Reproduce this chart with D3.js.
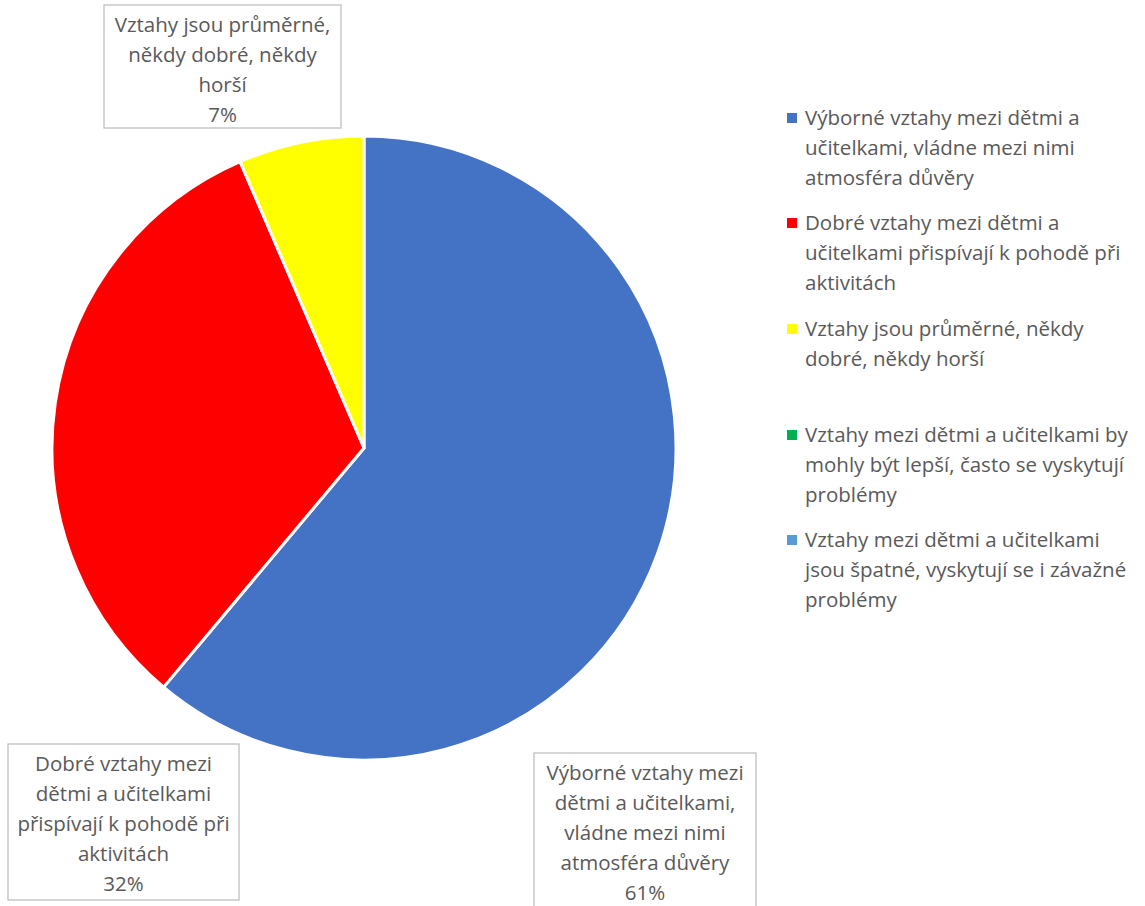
<!DOCTYPE html>
<html><head><meta charset="utf-8">
<script src="https://cdn.jsdelivr.net/npm/d3@7"></script>
<style>body{margin:0;background:#fff}svg{display:block}</style>
</head><body>
<svg id="c" width="1145" height="906"></svg>
<script>
const categories = [
  "Výborné vztahy mezi dětmi a učitelkami, vládne mezi nimi atmosféra důvěry",
  "Dobré vztahy mezi dětmi a učitelkami přispívají k pohodě při aktivitách",
  "Vztahy jsou průměrné, někdy dobré, někdy horší",
  "Vztahy mezi dětmi a učitelkami by mohly být lepší, často se vyskytují problémy",
  "Vztahy mezi dětmi a učitelkami jsou špatné, vyskytují se i závažné problémy"
];
const values = [61.1, 32.4, 6.5, 0, 0];
const colors = ["#4472C4", "#FF0000", "#FFFF00", "#00B050", "#5B9BD5"];
const legendLines = [
  ["Výborné vztahy mezi dětmi a", "učitelkami, vládne mezi nimi", "atmosféra důvěry"],
  ["Dobré vztahy mezi dětmi a", "učitelkami přispívají k pohodě při", "aktivitách"],
  ["Vztahy jsou průměrné, někdy", "dobré, někdy horší"],
  ["Vztahy mezi dětmi a učitelkami by", "mohly být lepší, často se vyskytují", "problémy"],
  ["Vztahy mezi dětmi a učitelkami", "jsou špatné, vyskytují se i závažné", "problémy"]
];
const labelLines = [
  ["Výborné vztahy mezi", "dětmi a učitelkami,", "vládne mezi nimi", "atmosféra důvěry"],
  ["Dobré vztahy mezi", "dětmi a učitelkami", "přispívají k pohodě při", "aktivitách"],
  ["Vztahy jsou průměrné,", "někdy dobré, někdy", "horší"]
];

const svg = d3.select("#c");
const font = "'Open Sans', sans-serif";
const textColor = "#595959";
const fs = 20.5, lh = 30;

const cx = 364, cy = 448, R = 312;
const total = d3.sum(values);
const pie = d3.pie().sort(null).value(d => d)(values);
const arc = d3.arc().innerRadius(0).outerRadius(R);

const g = svg.append("g").attr("transform", `translate(${cx},${cy})`);
g.selectAll("path").data(pie.filter(d => d.value > 0)).join("path")
  .attr("d", arc)
  .attr("fill", d => colors[d.index])
  .attr("stroke", "#fff").attr("stroke-width", 3).attr("stroke-linejoin", "round");

// data label boxes
const boxes = [
  {i: 0, x: 534, y: 753, w: 222, h: 170},
  {i: 1, x: 8, y: 744, w: 231, h: 156},
  {i: 2, x: 104, y: 5, w: 237, h: 123}
];
boxes.forEach(b => {
  const bg = svg.append("g");
  bg.append("rect").attr("x", b.x).attr("y", b.y).attr("width", b.w).attr("height", b.h)
    .attr("fill", "#fff").attr("stroke", "#BFBFBF").attr("stroke-width", 1.3);
  const lines = labelLines[b.i].concat([Math.round(values[b.i] / total * 100) + "%"]);
  const mx = b.x + b.w / 2;
  const startY = b.y + 20;
  lines.forEach((t, k) => {
    bg.append("text").attr("x", mx).attr("y", startY + k * lh)
      .attr("dy", "0.35em").attr("text-anchor", "middle")
      .attr("font-family", font).attr("font-size", fs).attr("fill", textColor).text(t);
  });
});

// legend
const legY = [118, 223, 329, 435, 540];
const lg = svg.append("g");
categories.forEach((c, i) => {
  lg.append("rect").attr("x", 787).attr("y", legY[i] - 5).attr("width", 10).attr("height", 10)
    .attr("fill", colors[i]);
  legendLines[i].forEach((t, k) => {
    lg.append("text").attr("x", 805).attr("y", legY[i] + k * lh).attr("dy", "0.35em")
      .attr("font-family", font).attr("font-size", fs).attr("fill", textColor).text(t);
  });
});
</script>
</body></html>
